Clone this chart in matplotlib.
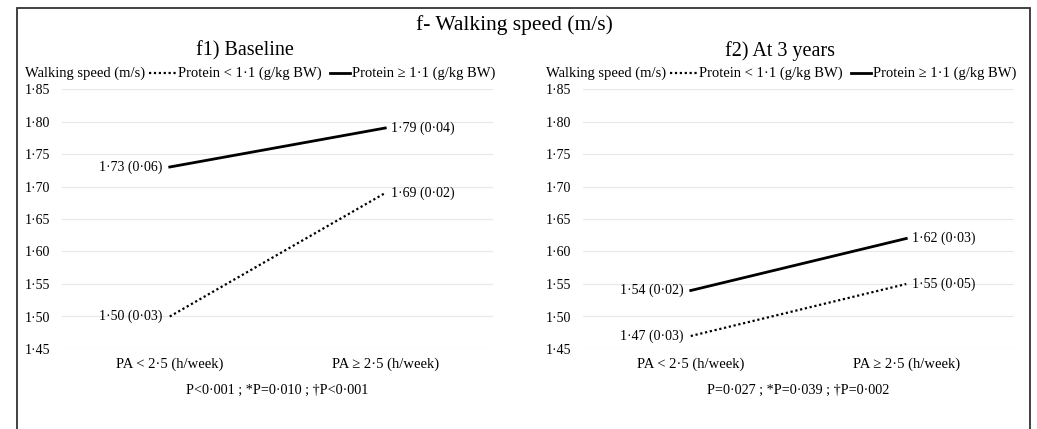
import matplotlib.pyplot as plt
from matplotlib.patches import Rectangle
from matplotlib.lines import Line2D

plt.rcParams['font.family'] = ['Liberation Serif', 'DejaVu Serif']

## datos
categorias = ['PA < 2·5 (h/week)', 'PA ≥ 2·5 (h/week)']
yticks = [1.45, 1.50, 1.55, 1.60, 1.65, 1.70, 1.75, 1.80, 1.85]

base_bajo = [1.50, 1.69]
base_alto = [1.73, 1.79]
base_bajo_lbl = ['1·50 (0·03)', '1·69 (0·02)']
base_alto_lbl = ['1·73 (0·06)', '1·79 (0·04)']

tres_bajo = [1.47, 1.55]
tres_alto = [1.54, 1.62]
tres_bajo_lbl = ['1·47 (0·03)', '1·55 (0·05)']
tres_alto_lbl = ['1·54 (0·02)', '1·62 (0·03)']

titulo = 'f- Walking speed (m/s)'
subtitulos = ['f1) Baseline', 'f2) At 3 years']
pvalores = ['P<0·001 ; *P=0·010 ; †P<0·001', 'P=0·027 ; *P=0·039 ; †P=0·002']
leyenda = ['Protein < 1·1 (g/kg BW)', 'Protein ≥ 1·1 (g/kg BW)']

W, H = 1037, 429
AW, AH = 431, 260
fig = plt.figure(figsize=(W / 100, H / 100), dpi=100)

## marco exterior
fig.patches.append(Rectangle((17 / W, -0.1), (1030 - 17) / W, 1.1 - 8 / H,
                             transform=fig.transFigure, fill=False,
                             edgecolor='#333333', linewidth=1.3))

fig.text(514 / W, 1 - 25 / H, titulo, ha='center', va='center', fontsize=15.5)

paneles = [
    (62, 245, base_bajo, base_alto, base_bajo_lbl, base_alto_lbl),
    (583, 780, tres_bajo, tres_alto, tres_bajo_lbl, tres_alto_lbl),
]

for i, (x0, xsub, bajo, alto, lbl_b, lbl_a) in enumerate(paneles):
    ax = fig.add_axes([x0 / W, 1 - 349 / H, AW / W, AH / H])
    x = [0, 1]
    ax.plot(x, bajo, color='black', linestyle=(0, (1, 1.2)), linewidth=1.6)
    ax.plot(x, alto, color='black', linestyle='-', linewidth=2.0)
    ax.set_xlim(-0.5, 1.5)
    ax.set_ylim(1.45, 1.85)
    ax.set_yticks(yticks)
    ax.set_yticklabels([('%.2f' % v).replace('.', '·') for v in yticks])
    ax.set_xticks(x)
    ax.set_xticklabels(categorias, fontsize=10.5)
    ax.tick_params(length=0)
    ax.tick_params(axis='y', pad=8.5, labelsize=10)
    ax.tick_params(axis='x', pad=6)
    for s in ax.spines.values():
        s.set_visible(False)
    ax.grid(axis='y', color='#e8e8e8', linewidth=0.9)
    ax.set_axisbelow(True)

    # etiquetas de datos
    for serie, lbls in [(bajo, lbl_b), (alto, lbl_a)]:
        ax.annotate(lbls[0], (0, serie[0]), xytext=(-5, 0), textcoords='offset points',
                    ha='right', va='center', fontsize=10)
        ax.annotate(lbls[1], (1, serie[1]), xytext=(4, 0), textcoords='offset points',
                    ha='left', va='center', fontsize=10)

    fig.text(xsub / W, 1 - 51 / H, subtitulos[i], ha='center', va='center', fontsize=14.5)
    fig.text((x0 + AW / 2) / W, 1 - 390 / H, pvalores[i],
             ha='center', va='center', fontsize=10.2)

    # leyenda tipo Excel
    y_ley = 1 + 16 / AH
    ax.text(-37 / AW, y_ley, 'Walking speed (m/s)', transform=ax.transAxes,
            ha='left', va='center', fontsize=10.5)
    ax.add_line(Line2D([87 / AW, 114 / AW], [y_ley, y_ley], transform=ax.transAxes,
                       color='black', linestyle=(0, (1, 1.2)), linewidth=1.6, clip_on=False))
    ax.text(116 / AW, y_ley, leyenda[0], transform=ax.transAxes,
            ha='left', va='center', fontsize=10.5)
    ax.add_line(Line2D([268 / AW, 288 / AW], [y_ley, y_ley], transform=ax.transAxes,
                       color='black', linestyle='-', linewidth=2.0, clip_on=False))
    ax.text(290 / AW, y_ley, leyenda[1], transform=ax.transAxes,
            ha='left', va='center', fontsize=10.5)

fig.savefig('out.png', dpi=100)
plt.close()
